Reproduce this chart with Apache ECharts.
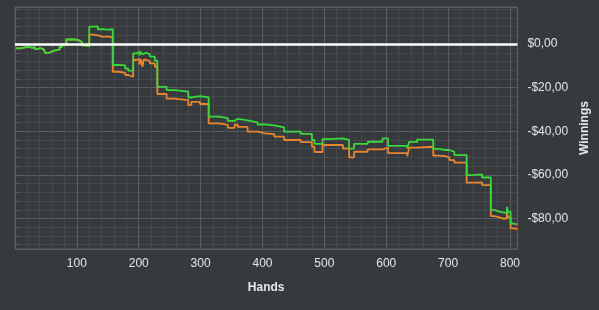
<!DOCTYPE html>
<html>
<head>
<meta charset="utf-8">
<script src="https://cdn.jsdelivr.net/npm/echarts@6/dist/echarts.min.js"></script>
<style>
html,body{margin:0;padding:0;background:#373a3d;}
#chart{width:599px;height:310px;}
</style>
</head>
<body>
<div id="chart"></div>
<script>
// Hand numbers where the running totals change
var hands = [1, 9, 14, 17, 22, 28, 32, 36, 41, 46, 49, 55, 59, 68, 72, 76, 83, 97, 103, 108, 114,
  120, 127, 134, 143, 149, 158, 168, 178, 183, 191, 196, 198, 201, 203, 206, 208, 212, 218, 226,
  230, 245, 258, 280, 285, 299, 313, 330, 344, 355, 360, 376, 392, 405, 419, 435, 462, 480, 484,
  497, 508, 530, 540, 548, 570, 594, 603, 634, 637, 650, 676, 686, 695, 702, 710, 730, 740, 755,
  769, 775, 780, 788, 795, 797, 801, 806, 811];

// Green line (winnings before rake)
var greenWinnings = [-2.0, -1.6, -2.2, -1.2, -1.8, -1.3, -2.3, -1.8, -2.4, -2.6, -4.0, -3.5, -2.7, -2.5, -1.3, -0.2, 2.1, 1.8, 0.9, -0.6, -0.9,
  8.0, 8.1, 6.8, 6.6, 6.8, -9.6, -9.8, -11.2, -12.2, -4.3, -4.0, -3.5, -5.2, -3.6, -4.7, -4.0, -4.6, -5.8, -7.6,
  -19.6, -21.1, -21.8, -24.5, -23.9, -24.5, -33.3, -34.0, -35.2, -34.3, -35.0, -35.9, -36.9, -37.3, -38.2, -40.2, -41.2, -44.0, -45.8,
  -43.6, -43.3, -44.0, -48.0, -45.8, -44.8, -43.3, -46.7, -47.9, -44.9, -43.8, -48.1, -48.6, -48.6, -49.4, -50.9, -60.1, -59.8, -61.2,
  -76.1, -76.6, -77.2, -77.5, -74.6, -77.0, -82.3, -82.7, -82.7];

// Orange line (net winnings)
var orangeWinnings = [-2.0, -1.6, -2.2, -1.2, -1.8, -1.3, -2.3, -1.8, -2.4, -2.6, -4.0, -3.5, -2.7, -2.5, -1.3, -0.2, 2.1, 1.8, 0.9, -0.6, -0.9,
  4.3, 4.0, 3.3, 3.5, 3.1, -12.7, -13.2, -14.2, -15.0, -7.3, -7.0, -6.8, -9.4, -6.8, -10.4, -7.2, -7.8, -8.9, -10.4,
  -22.9, -25.0, -25.7, -28.0, -26.5, -27.5, -36.4, -37.1, -38.4, -37.0, -38.0, -40.2, -41.0, -41.3, -42.5, -44.0, -45.0, -47.1, -49.5,
  -46.3, -46.3, -47.9, -52.0, -49.4, -48.3, -47.5, -50.0, -51.5, -47.5, -47.1, -51.2, -51.4, -52.0, -53.2, -54.4, -63.6, -63.4, -64.7,
  -78.9, -79.3, -80.0, -80.0, -77.4, -79.5, -84.5, -84.8, -84.8];

var xRange = [0, 812];
var yRange = [-94, 17];

function pairs(xs, ys) { return xs.map(function (x, i) { return [x, ys[i]]; }); }
var last = hands.length - 1;

var textColor = '#e6e6e6';
var majorColor = '#595c60';
var minorColor = '#45484c';
var fontFamily = 'Liberation Sans, Arial, sans-serif';

var chart = echarts.init(document.getElementById('chart'), null, {renderer: 'canvas'});
chart.setOption({
  backgroundColor: '#373a3d',
  animation: false,
  grid: {left: 15, right: 80, top: 7, bottom: 61, show: true, borderColor: majorColor, borderWidth: 1, containLabel: false},
  xAxis: {
    type: 'value', min: xRange[0], max: xRange[1], interval: 100,
    name: 'Hands', nameLocation: 'middle', nameGap: 33,
    nameTextStyle: {color: textColor, fontWeight: 'bold', fontSize: 12, fontFamily: fontFamily},
    axisLine: {show: true, lineStyle: {color: majorColor}},
    axisTick: {show: true, length: 5, lineStyle: {color: majorColor}},
    minorTick: {show: true, splitNumber: 5, length: 5, lineStyle: {color: majorColor}},
    axisLabel: {color: textColor, fontSize: 12, fontFamily: fontFamily, margin: 9, showMinLabel: false, showMaxLabel: false},
    splitLine: {show: true, lineStyle: {color: majorColor}},
    minorSplitLine: {show: true, lineStyle: {color: minorColor}}
  },
  yAxis: {
    type: 'value', position: 'right', min: yRange[0], max: yRange[1], splitNumber: 5,
    name: 'Winnings', nameLocation: 'middle', nameGap: 57,
    nameTextStyle: {color: textColor, fontWeight: 'bold', fontSize: 12, fontFamily: fontFamily},
    axisLine: {show: true, lineStyle: {color: majorColor}},
    axisTick: {show: true, length: 8, lineStyle: {color: majorColor}},
    minorTick: {show: true, splitNumber: 5, length: 4, lineStyle: {color: majorColor}},
    axisLabel: {
      color: textColor, fontSize: 12, fontFamily: fontFamily, margin: 10,
      showMinLabel: false, showMaxLabel: false,
      formatter: function (v) { return (v < 0 ? '-' : '') + '$' + Math.abs(v).toFixed(2).replace('.', ','); }
    },
    splitLine: {show: true, lineStyle: {color: majorColor}},
    minorSplitLine: {show: true, lineStyle: {color: minorColor}}
  },
  series: [
    {
      type: 'line', step: 'end', showSymbol: false, silent: true,
      data: pairs(hands, orangeWinnings),
      lineStyle: {color: '#e8862e', width: 1.8}, itemStyle: {color: '#e8862e'}
    },
    {
      type: 'line', step: 'end', showSymbol: false, silent: true,
      data: pairs(hands, greenWinnings),
      lineStyle: {color: '#3ad83a', width: 1.8}, itemStyle: {color: '#3ad83a'}
    },
    {
      type: 'scatter', silent: true, symbol: 'circle', symbolSize: 3,
      itemStyle: {color: '#ff2a2a'},
      data: [[hands[last], greenWinnings[last]], [hands[last], orangeWinnings[last]]],
      markLine: {
        silent: true, symbol: ['none', 'none'], label: {show: false},
        lineStyle: {color: '#ffffff', width: 2.5, type: 'solid'},
        data: [{yAxis: 0}]
      }
    }
  ]
});
</script>
</body>
</html>
